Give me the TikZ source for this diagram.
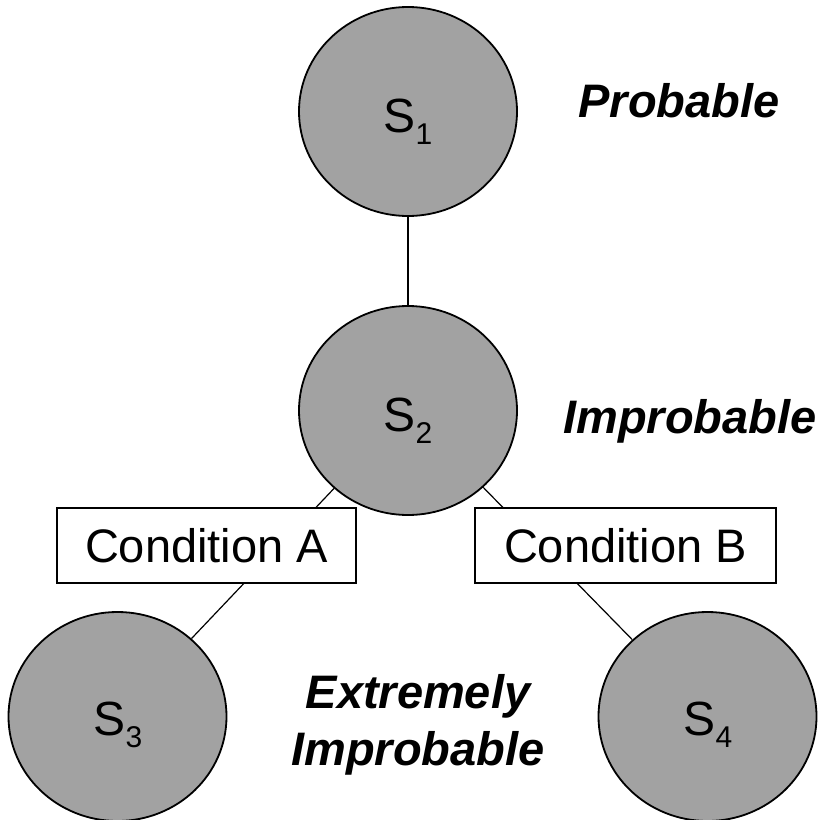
\documentclass[tikz,border=0pt]{standalone}
\usepackage{fontspec}
\setmainfont{Liberation Sans}
\usetikzlibrary{shapes.geometric}
\definecolor{stategray}{RGB}{162,162,162}

\tikzset{
  state/.style={ellipse, draw=black, line width=1.8pt, fill=stategray,
    minimum width=218pt, minimum height=209pt, inner sep=0pt},
  statelabel/.style={anchor=base, inner sep=0pt,
    font=\fontsize{48}{56}\selectfont},
  condbox/.style={rectangle, draw=black, line width=1.6pt, fill=white,
    minimum height=75pt, inner sep=0pt, font=\fontsize{47}{56}\selectfont},
  link/.style={draw=black, line width=1.2pt},
  level/.style={inner sep=0pt, align=center,
    font=\fontsize{47}{57}\selectfont\bfseries\itshape},
}
\newcommand{\sublow}[1]{\raisebox{-12pt}{\fontsize{30}{30}\selectfont #1}}

\begin{document}
\begin{tikzpicture}[x=1pt, y=-1pt]
  \useasboundingbox (0,0) rectangle (829,819);

  % states
  \node[state] (s1) at (408,111.5) {};
  \node[state] (s2) at (408,410.5) {};
  \node[state] (s3) at (117.5,716.5) {};
  \node[state] (s4) at (707.5,716.5) {};

  \node[statelabel] (l1) at (408,132) {S\sublow{1}};
  \node[statelabel] (l2) at (408,431) {S\sublow{2}};
  \node[statelabel] (l3) at (118,735) {S\sublow{3}};
  \node[statelabel] (l4) at (708,735) {S\sublow{4}};

  % transitions
  \draw[link] (s1) -- (s2);
  \draw[link] (s2) -- (s3);
  \draw[link] (s2) -- (s4);

  % conditions on the branches
  \node[condbox, minimum width=299pt] (ca) at (206.5,545.5) {Condition A};
  \node[condbox, minimum width=301pt] (cb) at (625.5,545.5) {Condition B};

  % likelihood levels
  \node[level, anchor=base] (p1) at (679,117) {Probable};
  \node[level, anchor=base] (p2) at (690,433) {Improbable};
  \node[level, anchor=base] (p3) at (418,708) {Extremely};
  \node[level, anchor=base] (p4) at (418,765) {Improbable};
\end{tikzpicture}
\end{document}
